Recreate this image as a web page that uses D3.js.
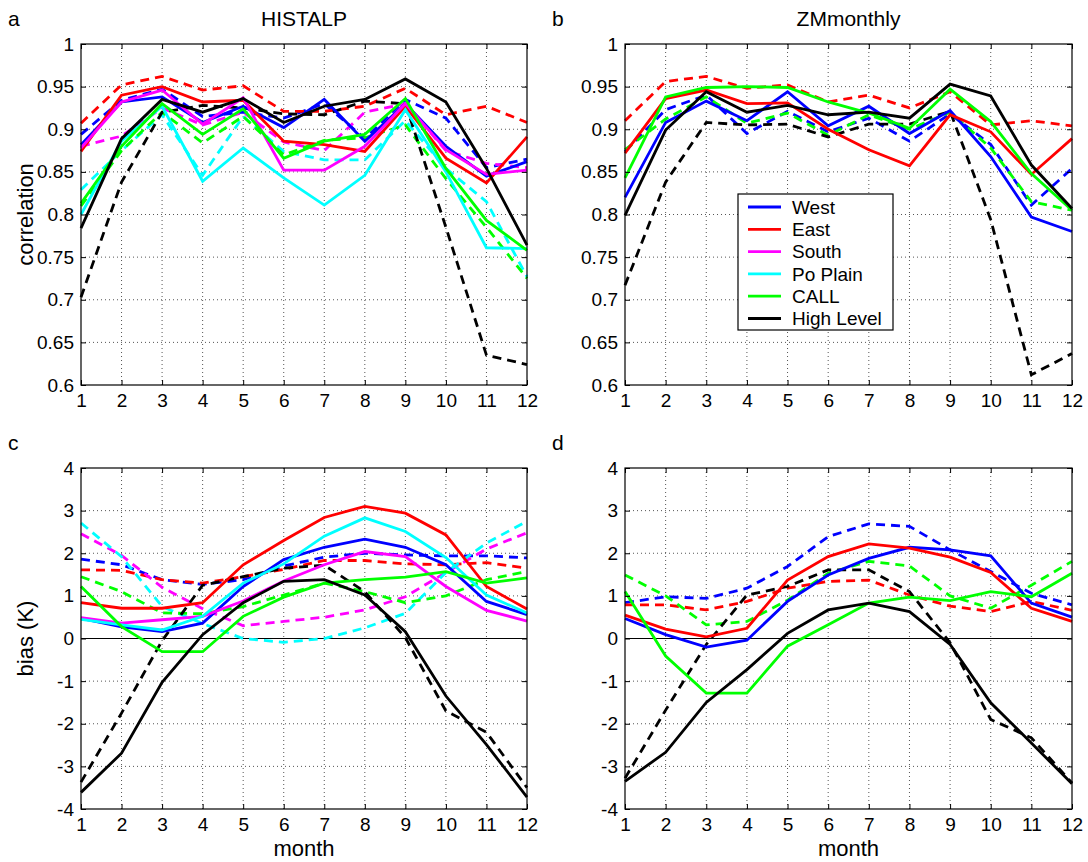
<!DOCTYPE html>
<html><head><meta charset="utf-8">
<script src="https://cdn.jsdelivr.net/npm/d3@7/dist/d3.min.js"></script>
<style>body{margin:0;background:#fff}svg{display:block;font-family:"Liberation Sans",Arial,Helvetica,sans-serif}</style>
</head><body><svg id="chart" width="1088" height="862"></svg>
<script>
// ---------------- DATA ----------------
const months = [1,2,3,4,5,6,7,8,9,10,11,12];
const monthTickLabels = ["1","2","3","4","5","6","7","8","9","10","11","12"];
const corrTicks = [0.6,0.65,0.7,0.75,0.8,0.85,0.9,0.95,1];
const corrTickLabels = ["0.6","0.65","0.7","0.75","0.8","0.85","0.9","0.95","1"];
const biasTicks = [-4,-3,-2,-1,0,1,2,3,4];
const biasTickLabels = ["-4","-3","-2","-1","0","1","2","3","4"];
const regionNames = ["West","East","South","Po Plain","CALL","High Level"];
const regionColors = ["#0000ff","#ff0000","#ff00ff","#00ffff","#00ff00","#000000"];
const panelTitles = ["HISTALP","ZMmonthly"];
const panelLetters = ["a","b","c","d"];

// Panel a: HISTALP correlation (solid / dashed)
const aWestSolid   = [0.882,0.932,0.938,0.908,0.927,0.902,0.935,0.886,0.930,0.880,0.845,0.862];
const aWestDashed  = [0.894,0.934,0.947,0.915,0.920,0.913,0.930,0.889,0.935,0.913,0.855,0.865];
const aEastSolid   = [0.874,0.940,0.950,0.932,0.934,0.886,0.882,0.874,0.927,0.866,0.837,0.891];
const aEastDashed  = [0.907,0.952,0.962,0.946,0.951,0.921,0.921,0.927,0.948,0.917,0.927,0.908];
const aSouthSolid  = [0.878,0.932,0.946,0.906,0.937,0.852,0.852,0.880,0.930,0.876,0.847,0.852];
const aSouthDashed = [0.880,0.892,0.925,0.905,0.920,0.885,0.875,0.920,0.930,0.875,0.860,0.855];
const aPoSolid     = [0.800,0.886,0.927,0.839,0.878,0.843,0.811,0.846,0.923,0.850,0.761,0.760];
const aPoDashed    = [0.829,0.875,0.917,0.846,0.915,0.874,0.864,0.864,0.910,0.854,0.815,0.727];
const aCallSolid   = [0.813,0.880,0.930,0.894,0.924,0.866,0.886,0.894,0.936,0.854,0.793,0.758];
const aCallDashed  = [0.810,0.875,0.920,0.884,0.915,0.870,0.887,0.890,0.905,0.842,0.785,0.725];
const aHighSolid   = [0.784,0.889,0.935,0.920,0.936,0.908,0.927,0.935,0.959,0.932,0.854,0.764];
const aHighDashed  = [0.703,0.838,0.920,0.928,0.925,0.918,0.917,0.933,0.930,0.785,0.635,0.624];

// Panel b: ZMmonthly correlation
const bWestSolid   = [0.820,0.908,0.933,0.910,0.944,0.904,0.927,0.895,0.922,0.868,0.797,0.780];
const bWestDashed  = [0.874,0.923,0.940,0.895,0.921,0.897,0.913,0.886,0.918,0.882,0.811,0.854];
const bEastSolid   = [0.872,0.936,0.946,0.930,0.931,0.900,0.876,0.857,0.917,0.897,0.847,0.889];
const bEastDashed  = [0.910,0.956,0.962,0.948,0.952,0.932,0.940,0.925,0.944,0.905,0.910,0.904];
const bCallSolid   = [0.843,0.938,0.949,0.950,0.949,0.932,0.919,0.901,0.947,0.909,0.848,0.805];
const bCallDashed  = [0.876,0.912,0.938,0.907,0.919,0.893,0.917,0.900,0.920,0.878,0.815,0.805];
const bHighSolid   = [0.799,0.899,0.944,0.920,0.928,0.917,0.920,0.913,0.953,0.939,0.858,0.807];
const bHighDashed  = [0.717,0.838,0.908,0.905,0.906,0.891,0.906,0.906,0.921,0.794,0.612,0.637];

// Panel c: HISTALP bias (K)
const cWestSolid   = [0.47,0.27,0.16,0.36,1.22,1.85,2.14,2.33,2.14,1.73,0.87,0.56];
const cWestDashed  = [1.86,1.73,1.38,1.27,1.38,1.70,1.91,2.00,1.96,1.94,1.94,1.89];
const cEastSolid   = [0.84,0.71,0.71,0.84,1.73,2.30,2.84,3.10,2.94,2.43,1.22,0.69];
const cEastDashed  = [1.61,1.60,1.38,1.30,1.45,1.62,1.83,1.83,1.75,1.73,1.78,1.65];
const cSouthSolid  = [0.49,0.36,0.44,0.52,0.88,1.35,1.73,2.04,1.92,1.22,0.66,0.41];
const cSouthDashed = [2.46,1.95,1.20,0.70,0.30,0.40,0.50,0.67,0.98,1.55,2.10,2.48];
const cPoSolid     = [0.45,0.32,0.20,0.52,1.30,1.75,2.40,2.83,2.51,1.90,1.02,0.60];
const cPoDashed    = [2.71,1.92,0.75,0.35,0.00,-0.09,0.00,0.25,0.59,1.55,2.24,2.75];
const cCallSolid   = [1.22,0.28,-0.31,-0.31,0.52,0.97,1.30,1.38,1.44,1.57,1.30,1.42];
const cCallDashed  = [1.45,1.10,0.60,0.58,0.75,1.02,1.30,1.10,0.84,1.00,1.38,1.57];
const cHighSolid   = [-3.61,-2.69,-1.03,0.09,0.84,1.34,1.38,1.02,0.16,-1.35,-2.49,-3.72];
const cHighDashed  = [-3.37,-1.75,-0.05,1.25,1.45,1.65,1.72,1.10,0.02,-1.70,-2.20,-3.50];

// Panel d: ZMmonthly bias (K)
const dWestSolid   = [0.47,0.09,-0.20,-0.04,0.87,1.49,1.88,2.14,2.08,1.94,0.83,0.50];
const dWestDashed  = [0.84,0.98,0.94,1.18,1.69,2.39,2.69,2.63,2.08,1.57,1.06,0.79];
const dEastSolid   = [0.55,0.22,0.04,0.24,1.37,1.92,2.22,2.12,1.91,1.55,0.71,0.40];
const dEastDashed  = [0.79,0.79,0.67,0.87,1.18,1.34,1.37,1.02,0.76,0.63,0.87,0.66];
const dCallSolid   = [1.10,-0.41,-1.28,-1.28,-0.18,0.32,0.83,0.97,0.89,1.10,0.98,1.53];
const dCallDashed  = [1.49,1.00,0.32,0.40,0.90,1.53,1.81,1.70,1.00,0.71,1.25,1.81];
const dHighSolid   = [-3.35,-2.67,-1.50,-0.73,0.12,0.67,0.83,0.63,-0.14,-1.51,-2.45,-3.41];
const dHighDashed  = [-3.28,-1.68,-0.14,1.02,1.22,1.61,1.61,1.10,-0.10,-1.90,-2.33,-3.39];

// ---------------- BUILD ----------------
const FONT_TICK = 19, FONT_LABEL = 22, FONT_TITLE = 21;
const svg = d3.select("#chart");

function mk(region, solid, dashed) {
  const i = regionNames.indexOf(region);
  return [{color: regionColors[i], values: dashed, dashed: true},
          {color: regionColors[i], values: solid, dashed: false}];
}

const panels = [
  {box:[81,527,44,385], domain:[0.6,1], ticks:corrTicks, labels:corrTickLabels, letter:panelLetters[0], title:panelTitles[0], ylabel:"correlation", zero:false,
   series:[...mk("West",aWestSolid,aWestDashed),...mk("East",aEastSolid,aEastDashed),...mk("South",aSouthSolid,aSouthDashed),
           ...mk("Po Plain",aPoSolid,aPoDashed),...mk("CALL",aCallSolid,aCallDashed),...mk("High Level",aHighSolid,aHighDashed)]},
  {box:[625,1072,44,385], domain:[0.6,1], ticks:corrTicks, labels:corrTickLabels, letter:panelLetters[1], title:panelTitles[1], zero:false, legend:true,
   series:[...mk("West",bWestSolid,bWestDashed),...mk("East",bEastSolid,bEastDashed),
           ...mk("CALL",bCallSolid,bCallDashed),...mk("High Level",bHighSolid,bHighDashed)]},
  {box:[81,527,468,809], domain:[-4,4], ticks:biasTicks, labels:biasTickLabels, letter:panelLetters[2], ylabel:"bias (K)", xlabel:"month", zero:true,
   series:[...mk("West",cWestSolid,cWestDashed),...mk("East",cEastSolid,cEastDashed),...mk("South",cSouthSolid,cSouthDashed),
           ...mk("Po Plain",cPoSolid,cPoDashed),...mk("CALL",cCallSolid,cCallDashed),...mk("High Level",cHighSolid,cHighDashed)]},
  {box:[625,1072,468,809], domain:[-4,4], ticks:biasTicks, labels:biasTickLabels, letter:panelLetters[3], xlabel:"month", zero:true,
   series:[...mk("West",dWestSolid,dWestDashed),...mk("East",dEastSolid,dEastDashed),
           ...mk("CALL",dCallSolid,dCallDashed),...mk("High Level",dHighSolid,dHighDashed)]}
];

panels.forEach(p => {
  const [x0,x1,y0,y1] = p.box;
  const x = d3.scaleLinear().domain([1,12]).range([x0,x1]);
  const y = d3.scaleLinear().domain(p.domain).range([y1,y0]);
  const g = svg.append("g");

  // grid (dotted)
  g.append("g").selectAll("line").data(months.slice(1,-1)).join("line")
    .attr("x1",d=>x(d)).attr("x2",d=>x(d)).attr("y1",y0).attr("y2",y1)
    .attr("stroke","#555").attr("stroke-width",1).attr("stroke-dasharray","1,3");
  g.append("g").selectAll("line").data(p.ticks.slice(1,-1)).join("line")
    .attr("y1",d=>y(d)).attr("y2",d=>y(d)).attr("x1",x0).attr("x2",x1)
    .attr("stroke","#555").attr("stroke-width",1).attr("stroke-dasharray","1,3");

  if (p.zero) {
    g.append("line").attr("x1",x0).attr("x2",x1).attr("y1",y(0)).attr("y2",y(0))
      .attr("stroke","#000").attr("stroke-width",1.2);
  }

  // series
  const line = d3.line().x((d,i)=>x(months[i])).y(d=>y(d));
  p.series.filter(s=>s.dashed).concat(p.series.filter(s=>!s.dashed)).forEach(s => {
    g.append("path").datum(s.values).attr("d",line)
      .attr("fill","none").attr("stroke",s.color).attr("stroke-width",2.8)
      .attr("stroke-linejoin","miter")
      .attr("stroke-dasharray", s.dashed ? "9,6" : null);
  });

  // axes with inward ticks
  const ax = d3.axisBottom(x).tickValues(months).tickFormat((d,i)=>monthTickLabels[i]).tickSize(-5).tickPadding(9);
  const ay = d3.axisLeft(y).tickValues(p.ticks).tickFormat((d,i)=>p.labels[i]).tickSize(-5).tickPadding(7);
  const axT = d3.axisTop(x).tickValues(months).tickFormat("").tickSize(-5);
  const ayR = d3.axisRight(y).tickValues(p.ticks).tickFormat("").tickSize(-5);
  [[ax,`translate(0,${y1})`],[ay,`translate(${x0},0)`],[axT,`translate(0,${y0})`],[ayR,`translate(${x1},0)`]].forEach(([a,t])=>{
    const ga = g.append("g").attr("transform",t).call(a);
    ga.select(".domain").remove();
    ga.selectAll("line").attr("stroke","#000").attr("stroke-width",1);
    ga.selectAll("text").attr("font-size",FONT_TICK).attr("fill","#000").attr("font-family",'"Liberation Sans",Arial,sans-serif');
  });

  // frame
  g.append("rect").attr("x",x0).attr("y",y0).attr("width",x1-x0).attr("height",y1-y0)
    .attr("fill","none").attr("stroke","#000").attr("stroke-width",1.2);

  // panel letter
  g.append("text").attr("x",x0-73).attr("y",y0-18).attr("font-size",FONT_TITLE).text(p.letter);
  if (p.title) g.append("text").attr("x",(x0+x1)/2).attr("y",y0-18).attr("text-anchor","middle").attr("font-size",FONT_TITLE).text(p.title);
  if (p.ylabel) g.append("text").attr("transform",`translate(${x0-48},${(y0+y1)/2}) rotate(-90)`)
    .attr("text-anchor","middle").attr("font-size",FONT_LABEL).text(p.ylabel);
  if (p.xlabel) g.append("text").attr("x",(x0+x1)/2).attr("y",y1+47).attr("text-anchor","middle").attr("font-size",FONT_LABEL).text(p.xlabel);

  if (p.legend) {
    const lg = g.append("g").attr("transform","translate(738,194)");
    lg.append("rect").attr("width",155).attr("height",136).attr("fill","#fff").attr("stroke","#000").attr("stroke-width",1.2);
    regionNames.forEach((n,i)=>{
      const yy = 13 + i*22.3;
      lg.append("line").attr("x1",10).attr("x2",43).attr("y1",yy).attr("y2",yy).attr("stroke",regionColors[i]).attr("stroke-width",2.8);
      lg.append("text").attr("x",54).attr("y",yy).attr("dy","0.35em").attr("font-size",FONT_TICK).text(n);
    });
  }
});
</script></body></html>
